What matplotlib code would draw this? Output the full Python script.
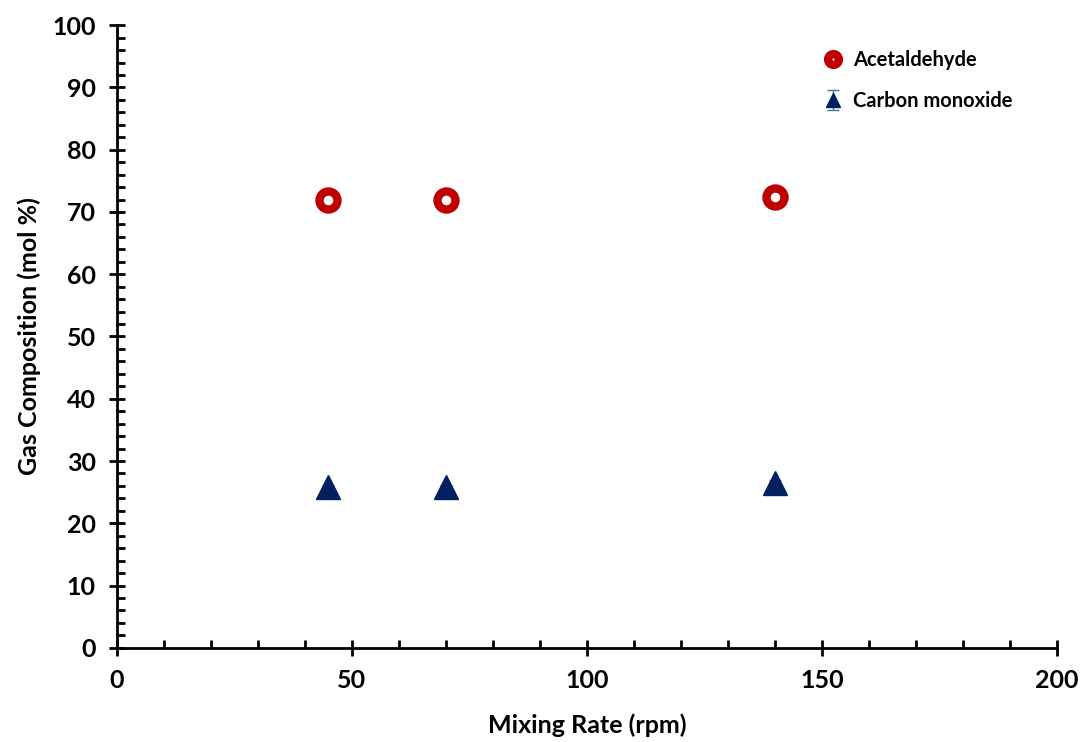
import matplotlib.pyplot as plt
from matplotlib.ticker import MultipleLocator

plt.rcParams['font.family'] = ['Lato', 'DejaVu Sans']
plt.rcParams['font.weight'] = 'bold'

rate = [45, 70, 140]
acetaldehyde = [71.9, 71.9, 72.4]
acet_err = [0.5, 0.5, 0.5]
co = [25.8, 25.8, 26.5]
co_err = [0.4, 0.4, 0.4]

fig = plt.figure(figsize=(10.81, 7.42), dpi=100)
ax = fig.add_axes([0.108, 0.127, 0.870, 0.839])

ax.errorbar(rate, acetaldehyde, yerr=acet_err, fmt='o', color='#C00000',
            mfc='white', mec='#C00000', ms=13, mew=6, ecolor='white',
            elinewidth=1.2, capsize=0, label='Acetaldehyde', zorder=3)
ax.errorbar(rate, co, yerr=co_err, fmt='^', color='#002060',
            mfc='#002060', mec='#002060', ms=17, mew=1, ecolor='#5070a0',
            elinewidth=1, capsize=4, label='Carbon monoxide', zorder=3)

ax.set_xlim(0, 200)
ax.set_ylim(0, 100)
ax.xaxis.set_major_locator(MultipleLocator(50))
ax.xaxis.set_minor_locator(MultipleLocator(10))
ax.yaxis.set_major_locator(MultipleLocator(10))
ax.yaxis.set_minor_locator(MultipleLocator(2))
ax.tick_params(which='major', direction='inout', length=12, width=2, labelsize=18, pad=9)
ax.tick_params(which='minor', direction='in', length=6, width=2)
for s in ['top', 'right']:
    ax.spines[s].set_visible(False)
for s in ['left', 'bottom']:
    ax.spines[s].set_linewidth(2)

ax.set_xlabel('Mixing Rate (rpm)', fontsize=18, fontweight='bold', labelpad=16)
ax.set_ylabel('Gas Composition (mol %)', fontsize=18, fontweight='bold', labelpad=8)

leg = ax.legend(loc='upper right', frameon=False, fontsize=14.5, handletextpad=0.0,
                markerscale=0.6, labelspacing=1.05, bbox_to_anchor=(0.972, 0.99))
for t in leg.get_texts():
    t.set_fontweight('bold')

fig.savefig('out.png', dpi=100)
